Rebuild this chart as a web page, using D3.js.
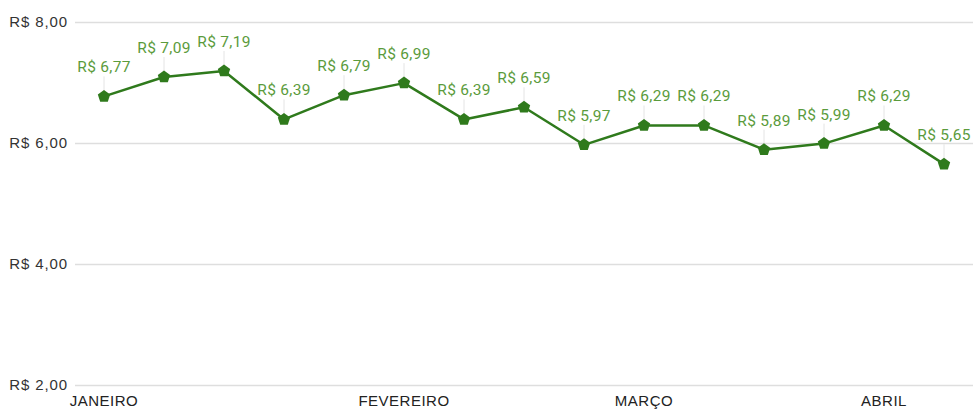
<!DOCTYPE html>
<html>
<head>
<meta charset="utf-8">
<script src="https://cdn.jsdelivr.net/npm/d3@7"></script>
<style>
  html, body { margin: 0; padding: 0; background: #fff; }
  svg { display: block; }
</style>
</head>
<body>
<svg id="chart" width="973" height="411"></svg>
<script>
// valores
var points = ["p1","p2","p3","p4","p5","p6","p7","p8","p9","p10","p11","p12","p13","p14","p15"];
var prices = [6.77, 7.09, 7.19, 6.39, 6.79, 6.99, 6.39, 6.59, 5.97, 6.29, 6.29, 5.89, 5.99, 6.29, 5.65];
var monthLabels = ["JANEIRO", "FEVEREIRO", "MARÇO", "ABRIL"];
var monthAt = ["p1", "p6", "p10", "p14"];
var yTicks = [2, 4, 6, 8];

var svg = d3.select("#chart"),
    width = +svg.attr("width"),
    height = +svg.attr("height");

var lineColor = "#2f7a1c";
var labelColor = "#5b9b3c";

var fmt = function (v) { return "R$ " + d3.format(".2f")(v).replace(".", ","); };

var x = d3.scaleBand()
    .domain(points)
    .range([74, 974]);

var y = d3.scaleLinear()
    .domain([2, 8])
    .range([385, 22]);

var cx = function (p) { return x(p) + x.bandwidth() / 2; };

// linhas de grade + rótulos do eixo y
var yAxis = d3.axisLeft(y)
    .tickValues(yTicks)
    .tickSize(-(width - 75))
    .tickPadding(7)
    .tickFormat(fmt);

var gy = svg.append("g")
    .attr("transform", "translate(75,0)")
    .call(yAxis);
gy.select(".domain").remove();
gy.selectAll(".tick line")
    .attr("stroke", "#dedede")
    .attr("stroke-width", 1.5);
gy.selectAll(".tick text")
    .attr("fill", "#333")
    .style("font-family", "Arial, 'Liberation Sans', sans-serif")
    .style("font-size", "15px")
    .style("letter-spacing", "0.9px");

// rótulos dos meses
var monthScale = d3.scaleOrdinal().domain(monthAt).range(monthLabels);
var gx = svg.append("g")
    .attr("transform", "translate(0,387)")
    .call(d3.axisBottom(x).tickValues(monthAt).tickSize(0).tickPadding(8)
        .tickFormat(function (d) { return monthScale(d); }));
gx.select(".domain").remove();
gx.selectAll(".tick text")
    .attr("fill", "#222")
    .style("font-family", "Arial, 'Liberation Sans', sans-serif")
    .style("font-size", "15px")
    .style("letter-spacing", "0.5px");

var data = points.map(function (p, i) { return { key: p, value: prices[i] }; });

// linhas-guia dos rótulos
svg.append("g")
  .selectAll("line")
  .data(data)
  .enter()
  .append("line")
  .attr("x1", function (d) { return cx(d.key); })
  .attr("x2", function (d) { return cx(d.key); })
  .attr("y1", function (d) { return y(d.value) - 20; })
  .attr("y2", function (d) { return y(d.value) - 5; })
  .attr("stroke", "#e4e4e4")
  .attr("stroke-width", 1);

// linha da série
var line = d3.line()
    .x(function (d) { return cx(d.key); })
    .y(function (d) { return y(d.value); });

svg.append("path")
  .datum(data)
  .attr("d", line)
  .attr("fill", "none")
  .attr("stroke", lineColor)
  .attr("stroke-width", 2.5)
  .attr("stroke-linejoin", "round");

// marcadores (pentágonos)
var pentPath = d3.range(5).map(function (k) {
    var a = -Math.PI / 2 + k * 2 * Math.PI / 5;
    return [6.5 * Math.cos(a), 6.5 * Math.sin(a)];
});
svg.append("g")
  .selectAll("path")
  .data(data)
  .enter()
  .append("path")
  .attr("d", "M" + pentPath.join("L") + "Z")
  .attr("transform", function (d) { return "translate(" + cx(d.key) + "," + y(d.value) + ")"; })
  .attr("fill", lineColor);

// rótulos de dados
svg.append("g")
  .selectAll("text")
  .data(data)
  .enter()
  .append("text")
  .attr("x", function (d) { return cx(d.key); })
  .attr("y", function (d) { return y(d.value) - 24; })
  .attr("text-anchor", "middle")
  .attr("fill", labelColor)
  .style("font-family", "Roboto, Arial, sans-serif")
  .style("font-size", "15.5px")
  .style("letter-spacing", "0.3px")
  .text(function (d) { return fmt(d.value); });
</script>
</body>
</html>
